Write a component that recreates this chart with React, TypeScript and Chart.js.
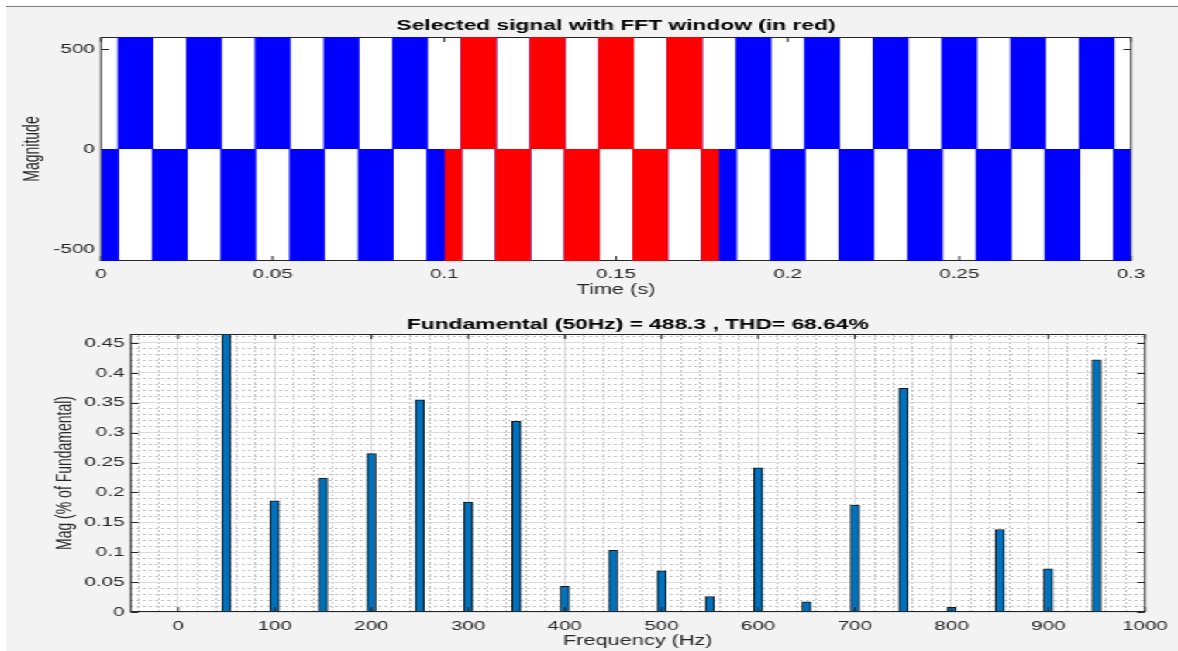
import React, { useEffect, useRef } from 'react';
import { Chart, registerables } from 'chart.js';

Chart.register(...registerables);

// ---------- layout helpers (the reference screenshot is stretched horizontally) ----------
const STRETCH = 1.55;
const W0 = 760; // unscaled canvas width (760 * 1.55 = 1178)
const FONT = "'Liberation Sans', Arial, Helvetica, sans-serif";
const TICK_COLOR = '#262626';
const TITLE_COLOR = '#000000';

// ---------- top plot data: selected signal (switching instants and levels) ----------
const SIGNAL_T = [
  0, 0.005, 0.015, 0.025, 0.035, 0.045, 0.055, 0.065, 0.075, 0.085, 0.095,
  0.105, 0.115, 0.125, 0.135, 0.145, 0.155, 0.165, 0.175, 0.185, 0.195,
  0.205, 0.215, 0.225, 0.235, 0.245, 0.255, 0.265, 0.275, 0.285, 0.295, 0.3,
];
const SIGNAL_V = [
  -560, 560, -560, 560, -560, 560, -560, 560, -560, 560, -560,
  560, -560, 560, -560, 560, -560, 560, -560, 560, -560,
  560, -560, 560, -560, 560, -560, 560, -560, 560, -560, -560,
];
// FFT window (in red)
const WINDOW_T = [0.1, 0.105, 0.115, 0.125, 0.135, 0.145, 0.155, 0.165, 0.175, 0.18];
const WINDOW_V = [-560, 560, -560, 560, -560, 560, -560, 560, -560, -560];

const TIME_TICKS = [0, 0.05, 0.1, 0.15, 0.2, 0.25, 0.3];
const TIME_LABELS = ['0', '0.05', '0.1', '0.15', '0.2', '0.25', '0.3'];
const MAG_TICKS = [-500, 0, 500];
const MAG_LABELS = ['-500', '0', '500'];

// ---------- bottom plot data: harmonic spectrum ----------
const HARMONIC_FREQ = [50, 100, 150, 200, 250, 300, 350, 400, 450, 500, 550, 600, 650, 700, 750, 800, 850, 900, 950];
const HARMONIC_MAG = [100, 0.186, 0.224, 0.265, 0.355, 0.184, 0.319, 0.043, 0.103, 0.069, 0.026, 0.241, 0.017, 0.179, 0.374, 0.008, 0.138, 0.072, 0.422];

const FREQ_TICKS = [0, 100, 200, 300, 400, 500, 600, 700, 800, 900, 1000];
const FREQ_LABELS = ['0', '100', '200', '300', '400', '500', '600', '700', '800', '900', '1000'];
const PCT_TICKS = [0, 0.05, 0.1, 0.15, 0.2, 0.25, 0.3, 0.35, 0.4, 0.45];
const PCT_LABELS = ['0', '0.05', '0.1', '0.15', '0.2', '0.25', '0.3', '0.35', '0.4', '0.45'];
const FREQ_MINOR_STEP = 20;
const PCT_MINOR_STEP = 0.01;

const FREQ_MIN = -49;
const FREQ_MAX = 1000;
const PCT_MAX = 0.465;

function minorList(from: number, to: number, step: number): number[] {
  const out: number[] = [];
  const n = Math.round((to - from) / step);
  for (let k = 0; k <= n; k++) out.push(Math.round((from + k * step) * 1e6) / 1e6);
  return out;
}
const FREQ_MINOR = minorList(-40, 1000, FREQ_MINOR_STEP);
const PCT_MINOR = minorList(0, 0.46, PCT_MINOR_STEP);

const findIdx = (arr: number[], v: number) => arr.findIndex((a) => Math.abs(a - v) < 1e-9);

// ---------- MATLAB-like axes box with inward ticks ----------
function drawBox(chart: any, opts: any) {
  const { ctx, chartArea: a } = chart;
  const xs = chart.scales.x;
  const ys = chart.scales.y;
  const L = 5;
  ctx.save();
  ctx.strokeStyle = TICK_COLOR;
  ctx.lineWidth = 1;
  ctx.beginPath();
  for (const v of opts.xTicks as number[]) {
    const p = xs.getPixelForValue(v);
    ctx.moveTo(p, a.bottom);
    ctx.lineTo(p, a.bottom - L);
    ctx.moveTo(p, a.top);
    ctx.lineTo(p, a.top + L);
  }
  for (const v of opts.yTicks as number[]) {
    const p = Math.round(ys.getPixelForValue(v)) + 0.5;
    ctx.moveTo(a.left, p);
    ctx.lineTo(a.left + L, p);
    ctx.moveTo(a.right, p);
    ctx.lineTo(a.right - L, p);
  }
  ctx.stroke();
  const t = Math.round(a.top) + 0.5;
  const b = Math.round(a.bottom) - 0.5;
  ctx.strokeRect(a.left, t, a.right - a.left, b - t);
  ctx.restore();
}

const axesBox = {
  id: 'axesBox',
  beforeDraw(chart: any) {
    const { ctx, chartArea: a } = chart;
    ctx.save();
    ctx.fillStyle = '#ffffff';
    ctx.fillRect(a.left, a.top, a.right - a.left, a.bottom - a.top);
    ctx.restore();
  },
  beforeDatasetsDraw(chart: any, _args: any, opts: any) {
    if (!opts.onTop) drawBox(chart, opts);
  },
  afterDatasetsDraw(chart: any, _args: any, opts: any) {
    if (opts.onTop) drawBox(chart, opts);
  },
};

export default function App() {
  const topRef = useRef<HTMLCanvasElement | null>(null);
  const botRef = useRef<HTMLCanvasElement | null>(null);

  useEffect(() => {
    const topChart = new Chart(topRef.current as HTMLCanvasElement, {
      type: 'line',
      data: {
        datasets: [
          {
            label: 'FFT window',
            data: WINDOW_T.map((t, i) => ({ x: t, y: WINDOW_V[i] })),
            stepped: true,
            fill: 'origin',
            borderColor: '#ff0000',
            backgroundColor: '#ff0000',
            borderWidth: 1,
            pointRadius: 0,
            order: 0,
          },
          {
            label: 'Signal',
            data: SIGNAL_T.map((t, i) => ({ x: t, y: SIGNAL_V[i] })),
            stepped: true,
            fill: 'origin',
            borderColor: '#0000ff',
            backgroundColor: '#0000ff',
            borderWidth: 1,
            pointRadius: 0,
            order: 1,
          },
        ],
      } as any,
      options: {
        responsive: false,
        animation: false,
        devicePixelRatio: 1,
        events: [],
        layout: { padding: { left: 0, right: 30.3, top: 0, bottom: 0 } },
        plugins: {
          legend: { display: false },
          tooltip: { enabled: false },
          title: {
            display: true,
            fullSize: false,
            text: 'Selected signal with FFT window (in red)',
            color: TITLE_COLOR,
            font: { family: FONT, size: 14.7, weight: 'bold' },
            padding: { top: 17.18, bottom: 2.18 },
          },
          axesBox: { onTop: false, xTicks: TIME_TICKS, yTicks: MAG_TICKS },
        } as any,
        scales: {
          x: {
            type: 'linear',
            min: 0,
            max: 0.3,
            afterBuildTicks: (s: any) => {
              s.ticks = TIME_TICKS.map((v) => ({ value: v }));
            },
            afterFit: (s: any) => {
              s.height = 39;
            },
            grid: { display: false, drawTicks: false },
            border: { display: false },
            ticks: {
              autoSkip: false,
              maxRotation: 0,
              minRotation: 0,
              padding: 5.5,
              color: TICK_COLOR,
              font: { family: FONT, size: 13.3 },
              callback: (_v: any, i: number) => TIME_LABELS[i],
            },
            title: {
              display: true,
              text: 'Time (s)',
              color: TICK_COLOR,
              font: { family: FONT, size: 14 },
              padding: { top: 0, bottom: 1.6 },
            },
          },
          y: {
            type: 'linear',
            min: -560,
            max: 560,
            afterBuildTicks: (s: any) => {
              s.ticks = MAG_TICKS.map((v) => ({ value: v }));
            },
            afterFit: (s: any) => {
              s.width = 65.2;
            },
            grid: { display: false, drawTicks: false },
            border: { display: false },
            ticks: {
              padding: 4,
              color: TICK_COLOR,
              font: { family: FONT, size: 13.3 },
              callback: (_v: any, i: number) => MAG_LABELS[i],
            },
            title: {
              display: true,
              text: 'Magnitude',
              color: TICK_COLOR,
              font: { family: FONT, size: 14 },
              padding: { top: 13.2, bottom: 0 },
            },
          },
        },
      } as any,
      plugins: [axesBox as any],
    });

    const botChart = new Chart(botRef.current as HTMLCanvasElement, {
      type: 'bar',
      data: {
        datasets: [
          {
            label: 'Mag',
            data: HARMONIC_FREQ.map((f, i) => ({ x: f, y: HARMONIC_MAG[i] })),
            backgroundColor: '#0072bd',
            borderColor: '#151515',
            borderWidth: 1,
            borderSkipped: 'start',
            barThickness: 5.8,
          },
        ],
      } as any,
      options: {
        responsive: false,
        animation: false,
        devicePixelRatio: 1,
        events: [],
        layout: { padding: { left: 0, right: 20.3, top: 0, bottom: 0 } },
        plugins: {
          legend: { display: false },
          tooltip: { enabled: false },
          title: {
            display: true,
            fullSize: false,
            text: 'Fundamental (50Hz) = 488.3 , THD= 68.64%',
            color: TITLE_COLOR,
            font: { family: FONT, size: 14.7, weight: 'bold' },
            padding: { top: 15.68, bottom: 0.68 },
          },
          axesBox: { onTop: true, xTicks: FREQ_TICKS, yTicks: PCT_TICKS },
        } as any,
        scales: {
          x: {
            type: 'linear',
            min: FREQ_MIN,
            max: FREQ_MAX,
            offset: false,
            afterBuildTicks: (s: any) => {
              s.ticks = FREQ_MINOR.map((v) => ({ value: v }));
            },
            afterFit: (s: any) => {
              s.height = 39;
            },
            grid: {
              display: true,
              offset: false,
              drawTicks: false,
              lineWidth: 1,
              color: (c: any) => (findIdx(FREQ_TICKS, c.tick.value) >= 0 ? '#dcdcdc' : '#c4c4c4'),
            },
            border: {
              display: false,
              dash: (c: any) => (findIdx(FREQ_TICKS, c.tick.value) >= 0 ? [] : [2, 2]),
            },
            ticks: {
              autoSkip: false,
              maxRotation: 0,
              minRotation: 0,
              padding: 6.5,
              color: TICK_COLOR,
              font: { family: FONT, size: 13.3 },
              callback: (v: any) => {
                const k = findIdx(FREQ_TICKS, Number(v));
                return k >= 0 ? FREQ_LABELS[k] : '';
              },
            },
            title: {
              display: true,
              text: 'Frequency (Hz)',
              color: TICK_COLOR,
              font: { family: FONT, size: 14 },
              padding: { top: 0, bottom: 1.1 },
            },
          },
          y: {
            type: 'linear',
            min: 0,
            max: PCT_MAX,
            afterBuildTicks: (s: any) => {
              s.ticks = PCT_MINOR.map((v) => ({ value: v }));
            },
            afterFit: (s: any) => {
              s.width = 84.3;
            },
            grid: {
              display: true,
              drawTicks: false,
              lineWidth: 1,
              color: (c: any) => (findIdx(PCT_TICKS, c.tick.value) >= 0 ? '#dcdcdc' : '#c4c4c4'),
            },
            border: {
              display: false,
              dash: (c: any) => (findIdx(PCT_TICKS, c.tick.value) >= 0 ? [] : [2, 2]),
            },
            ticks: {
              autoSkip: false,
              padding: 4,
              color: TICK_COLOR,
              font: { family: FONT, size: 13.3 },
              callback: (v: any) => {
                const k = findIdx(PCT_TICKS, Number(v));
                return k >= 0 ? PCT_LABELS[k] : '';
              },
            },
            title: {
              display: true,
              text: 'Mag (% of Fundamental)',
              color: TICK_COLOR,
              font: { family: FONT, size: 14 },
              padding: { top: 33.5, bottom: 0 },
            },
          },
        },
      } as any,
      plugins: [axesBox as any],
    });

    return () => {
      topChart.destroy();
      botChart.destroy();
    };
  }, []);

  return (
    <div style={{ position: 'fixed', left: 0, top: 0, width: 1178, height: 651, background: '#ffffff', overflow: 'hidden' }}>
      <div
        style={{
          position: 'absolute',
          left: 6,
          top: 6,
          right: 0,
          bottom: 0,
          background: '#f3f3f3',
          borderTop: '1px solid #7c7c7c',
        }}
      />
      <div
        style={{
          position: 'absolute',
          left: 0,
          top: 0,
          width: W0,
          height: 651,
          transform: `scaleX(${STRETCH})`,
          transformOrigin: '0 0',
        }}
      >
        <canvas
          ref={topRef}
          width={W0}
          height={300}
          style={{ position: 'absolute', left: 0, top: 0, width: W0, height: 300 }}
        />
        <canvas
          ref={botRef}
          width={W0}
          height={351}
          style={{ position: 'absolute', left: 0, top: 300, width: W0, height: 351 }}
        />
      </div>
    </div>
  );
}
